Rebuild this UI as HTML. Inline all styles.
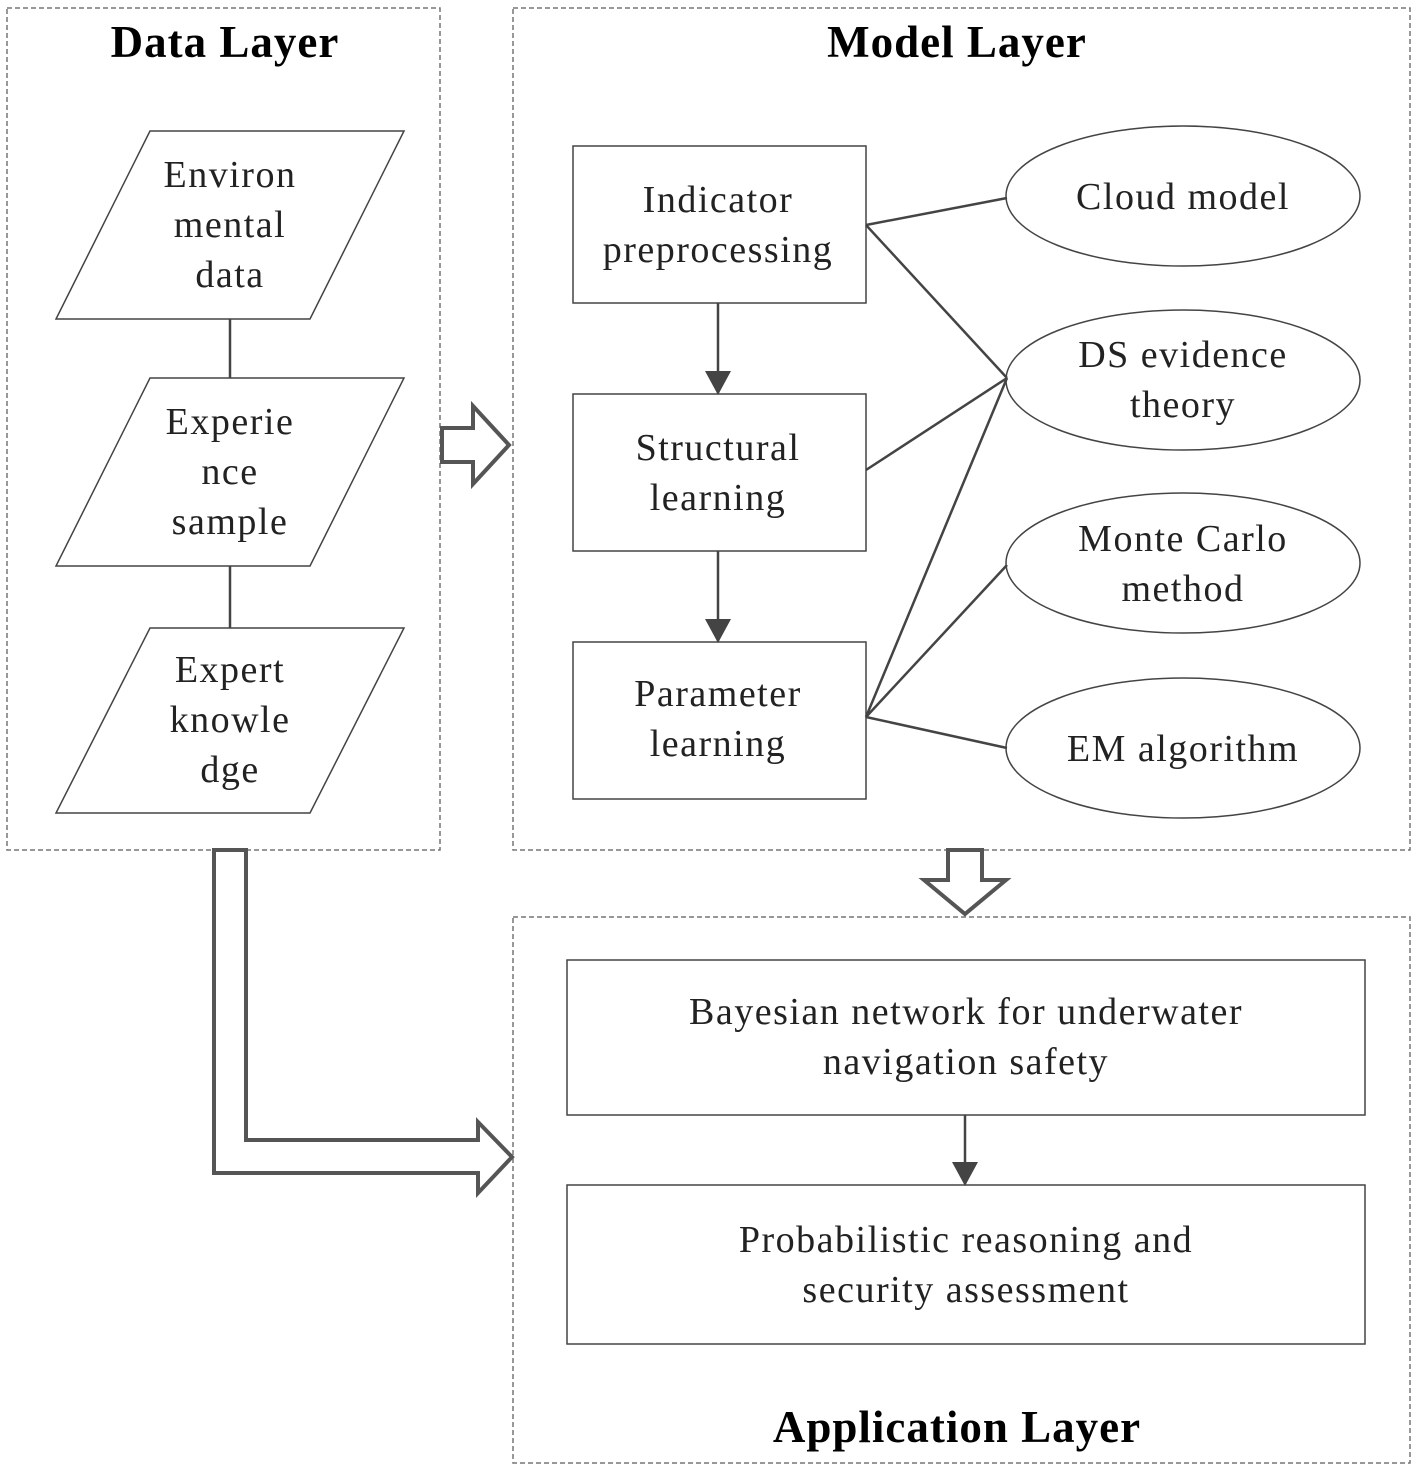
<!DOCTYPE html>
<html><head><meta charset="utf-8"><style>body{margin:0;background:#fff}svg{display:block}</style></head><body>
<svg width="1417" height="1470" viewBox="0 0 1417 1470" xmlns="http://www.w3.org/2000/svg" font-family="Liberation Serif, serif">
<defs><marker id="ah" markerWidth="24" markerHeight="26" refX="22" refY="13" orient="auto" markerUnits="userSpaceOnUse" viewBox="0 0 24 26"><path d="M0,0 L24,13 L0,26z" fill="#444"/></marker></defs>
<g fill="none" stroke="#777" stroke-width="1.5" stroke-dasharray="5,3">
<rect x="7" y="8" width="433" height="842"/>
<rect x="513" y="8" width="897" height="842"/>
<rect x="513" y="917" width="897" height="546"/>
</g>
<g font-weight="bold" font-size="45" text-anchor="middle" fill="#000" letter-spacing="1">
<text x="225" y="57">Data Layer</text>
<text x="957" y="57">Model Layer</text>
<text x="957" y="1442">Application Layer</text>
</g>
<g fill="#fff" stroke="#444" stroke-width="1.5">
<polygon points="150,131 404,131 310,319 56,319"/>
<polygon points="150,378 404,378 310,566 56,566"/>
<polygon points="150,628 404,628 310,813 56,813"/>
<rect x="573" y="146" width="293" height="157"/>
<rect x="573" y="394" width="293" height="157"/>
<rect x="573" y="642" width="293" height="157"/>
<ellipse cx="1183" cy="196" rx="177" ry="70"/>
<ellipse cx="1183" cy="380" rx="177" ry="70"/>
<ellipse cx="1183" cy="563" rx="177" ry="70"/>
<ellipse cx="1183" cy="748" rx="177" ry="70"/>
<rect x="567" y="960" width="798" height="155"/>
<rect x="567" y="1185" width="798" height="159"/>
</g>
<g stroke="#444" stroke-width="2.5" fill="none">
<line x1="230" y1="319" x2="230" y2="378"/>
<line x1="230" y1="566" x2="230" y2="628"/>
<line x1="718" y1="303" x2="718" y2="393" marker-end="url(#ah)"/>
<line x1="718" y1="551" x2="718" y2="641" marker-end="url(#ah)"/>
<line x1="965" y1="1115" x2="965" y2="1184" marker-end="url(#ah)"/>
<line x1="866" y1="225" x2="1007" y2="198"/>
<line x1="866" y1="225" x2="1007" y2="378"/>
<line x1="866" y1="470" x2="1007" y2="378"/>
<line x1="866" y1="717" x2="1007" y2="378"/>
<line x1="866" y1="717" x2="1007" y2="565"/>
<line x1="866" y1="717" x2="1007" y2="748"/>
</g>
<g fill="#fff" stroke="#555" stroke-width="4">
<polygon points="442,428 473,428 473,406 509,445 473,484 473,462 442,462"/>
<polygon points="948,850 982,850 982,880 1006,880 965,914 924,880 948,880"/>
<polygon points="214,850 246,850 246,1140 478,1140 478,1122 512,1157 478,1193 478,1173 214,1173"/>
</g>
<g font-size="38" text-anchor="middle" fill="#222" letter-spacing="1.5">
<text x="230" y="187">Environ</text><text x="230" y="237">mental</text><text x="230" y="287">data</text>
<text x="230" y="434">Experie</text><text x="230" y="484">nce</text><text x="230" y="534">sample</text>
<text x="230" y="682">Expert</text><text x="230" y="732">knowle</text><text x="230" y="782">dge</text>
<text x="718" y="212">Indicator</text><text x="718" y="262">preprocessing</text>
<text x="718" y="460">Structural</text><text x="718" y="510">learning</text>
<text x="718" y="706">Parameter</text><text x="718" y="756">learning</text>
<text x="1183" y="209">Cloud model</text>
<text x="1183" y="367">DS evidence</text><text x="1183" y="417">theory</text>
<text x="1183" y="551">Monte Carlo</text><text x="1183" y="601">method</text>
<text x="1183" y="761">EM algorithm</text>
<text x="966" y="1024">Bayesian network for underwater</text><text x="966" y="1074">navigation safety</text>
<text x="966" y="1252">Probabilistic reasoning and</text><text x="966" y="1302">security assessment</text>
</g>
</svg>
</body></html>
